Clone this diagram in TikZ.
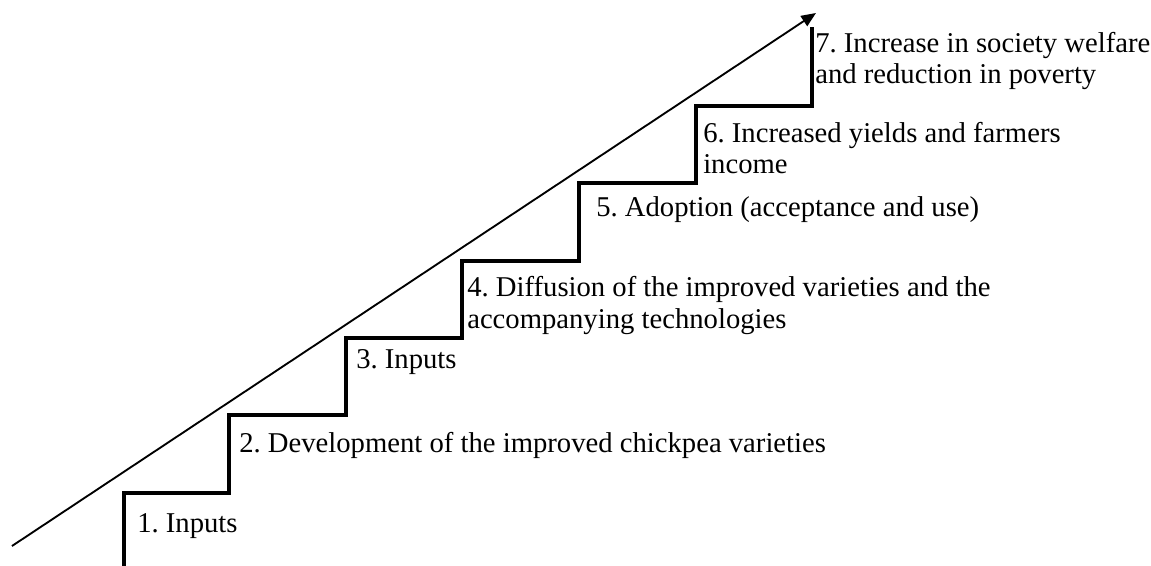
\documentclass[tikz,border=0pt]{standalone}
\usepackage{fontspec}
\setmainfont{Liberation Serif}
\usetikzlibrary{arrows.meta}
\frenchspacing
\begin{document}
\begin{tikzpicture}[x=0.75pt,y=-0.75pt,
  stair/.style={line width=2.7pt,line join=miter},
  trend/.style={line width=1.4pt,-{Triangle[length=11pt,width=9pt]}},
  steptext/.style={anchor=base west,inner sep=0pt,align=left,
    font=\fontsize{21.5}{23.3}\selectfont\frenchspacing}]
\useasboundingbox (0,0) rectangle (1151,566);
% staircase corners
\coordinate (s0) at (124,568);
\coordinate (s1) at (124,493);
\coordinate (s2) at (229,493);
\coordinate (s3) at (229,415);
\coordinate (s4) at (346,415);
\coordinate (s5) at (346,338);
\coordinate (s6) at (462,338);
\coordinate (s7) at (462,261);
\coordinate (s8) at (579,261);
\coordinate (s9) at (579,183);
\coordinate (s10) at (696,183);
\coordinate (s11) at (696,106);
\coordinate (s12) at (812,106);
\coordinate (s13) at (812,27);
\draw[stair] (s0) -- (s1) -- (s2) -- (s3) -- (s4) -- (s5) -- (s6) -- (s7)
  -- (s8) -- (s9) -- (s10) -- (s11) -- (s12) -- (s13);
% trend arrow
\coordinate (a0) at (12,546);
\coordinate (a1) at (816,13);
\draw[trend] (a0) -- (a1);
% labels (base anchor = baseline of the last line)
\node[steptext] (t1) at (137,532) {1. Inputs};
\node[steptext] (t2) at (239,452) {2. Development of the improved chickpea varieties};
\node[steptext] (t3) at (356,368) {3. Inputs};
\node[steptext] (t4) at (467,328) {4. Diffusion of the improved varieties and the\\accompanying technologies};
\node[steptext] (t5) at (596,217) {5. Adoption (acceptance and use)};
\node[steptext] (t6) at (703,174) {6. Increased yields and farmers\\income};
\node[steptext] (t7) at (815,84) {7. Increase in society welfare\\and reduction in poverty};
\end{tikzpicture}
\end{document}
